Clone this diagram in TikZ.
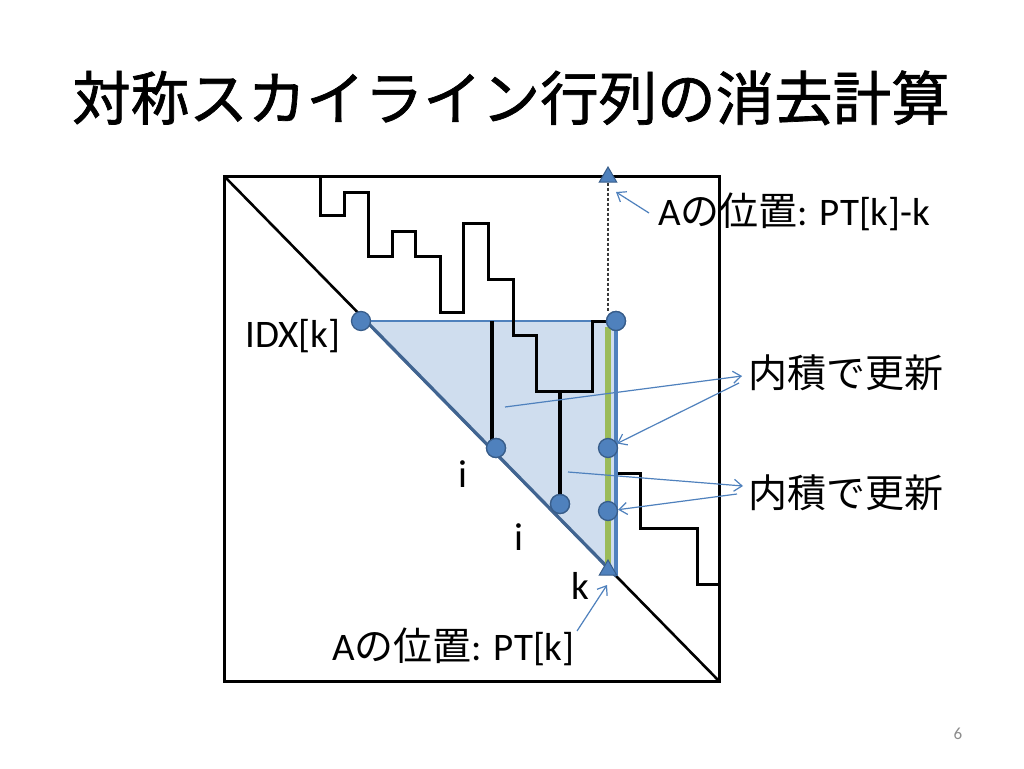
\documentclass[tikz,border=0pt]{standalone}
\usepackage{fontspec}
\setmainfont{Carlito}
\newfontfamily\cjk{Noto Sans CJK JP}
\newfontfamily\cjktitle[FakeBold=1.2]{Noto Sans CJK JP}
\usetikzlibrary{arrows.meta,shapes.geometric}
\definecolor{accent}{RGB}{79,129,189}
\definecolor{accentdk}{RGB}{56,93,138}
\definecolor{trifill}{RGB}{207,221,238}
\definecolor{hypo}{RGB}{64,100,145}
\definecolor{grn}{RGB}{155,187,89}
\definecolor{pagegray}{RGB}{140,140,140}
\begin{document}
\begin{tikzpicture}[x=1pt,y=-1pt,
  dot/.style={circle,fill=accent,draw=accentdk,line width=1.3,minimum size=19,inner sep=0},
  marker/.style={regular polygon,regular polygon sides=3,fill=accent,draw=accentdk,line width=1,minimum size=20,inner sep=0},
  lbl/.style={inner sep=0,font=\fontsize{39}{47}\selectfont,anchor=base west},
  jlbl/.style={lbl,font=\cjk\fontsize{39}{47}\selectfont},
  arr/.style={accent,line width=1.2,-{Straight Barb[length=8,width=12]}},
  blk/.style={black,line width=3},
]
\useasboundingbox (0,0) rectangle (1024,768);
\fill[white] (0,0) rectangle (1024,768);

% title
\node[inner sep=0,anchor=base,font=\cjktitle\fontsize{58.5}{70}\selectfont] (title) at (511,120) {対称スカイライン行列の消去計算};

% matrix frame and diagonal
\coordinate (TL) at (224,176);
\coordinate (BR) at (719,681);
\draw[blk] (TL) rectangle (BR);
\draw[blk,line width=2.6] (TL) -- (BR);

% triangle region
\coordinate (P) at (366,321);
\coordinate (Q) at (616,321);
\coordinate (R) at (616,576);
\fill[trifill] (P) -- (Q) -- (R) -- cycle;
\draw[accent,line width=2.2] (P) -- (Q);
\draw[hypo,line width=3.3] (P) -- (R);

% skyline
\draw[blk,line join=miter] (320,176) |- (344,215) |- (368,192) |- (392,256) |- (415,231)
  |- (440,256) |- (463,312) |- (488,223) |- (513,279) |- (536,335) |- (592,391)
  |- (616,321) |- (640,473) |- (697,528) |- (719,584);

% circles
\node[dot] (idx) at (361,321) {};
\node[dot] (tr) at (616,321) {};
\node[dot] (i1) at (496,448) {};
\node[dot] (i2) at (560,504) {};

% thick verticals
\coordinate (v1top) at (492,321);
\coordinate (v2top) at (560,391);
\draw[black,line width=4.2] (v1top) -- (v1top |- i1.center);
\draw[black,line width=4.2] (v2top) -- (v2top |- i2.center);
\node[dot] at (i1) {};
\node[dot] at (i2) {};

% column k
\draw[grn,line width=5.5] (608,327) -- (608,575);
\draw[accent,line width=3.4] (Q) -- (R);
\node[dot] (tr2) at (616,321) {};
\node[dot] (g1) at (608,448) {};
\node[dot] (g2) at (608,511) {};

% markers
\node[marker] (topA) at (608,177) {};
\node[marker] (botA) at (608,570) {};
\draw[gray!45!black,line width=1.2,dash pattern=on 3pt off 2pt] (topA.south) -- (topA.south |- tr.north);

% labels
\node[lbl] (idxl) at (245,347) {IDX[k]};
\node[lbl,anchor=base] (il1) at (463,487) {i};
\node[lbl,anchor=base] (il2) at (519,550) {i};
\node[lbl,anchor=base] (kl) at (580,599) {k};
\node[lbl] (ptk) at (332,660) {A{\cjk の位置}: PT[k]};
\node[lbl] (ptkk) at (658,225) {A{\cjk の位置}: PT[k]-k};
\node[jlbl] (upd1) at (748,387) {内積で更新};
\node[jlbl] (upd2) at (748,507) {内積で更新};

% arrows
\coordinate (a1s) at (505,407);
\coordinate (a1e) at (742,376);
\draw[arr] (a1s) -- (a1e);
\coordinate (a2s) at (739,383);
\draw[arr] (a2s) -- (g1);
\coordinate (a3s) at (568,472);
\coordinate (a3e) at (743,486);
\draw[arr] (a3s) -- (a3e);
\coordinate (a4s) at (737,494);
\draw[arr] (a4s) -- (g2);
\coordinate (a5s) at (649,213);
\coordinate (a5e) at (616,192);
\draw[arr] (a5s) -- (a5e);
\coordinate (a6s) at (577,631);
\coordinate (a6e) at (607,585);
\draw[arr] (a6s) -- (a6e);

% page number
\node[inner sep=0,anchor=base,font=\fontsize{17}{20}\selectfont,text=pagegray] (pg) at (958,739) {6};
\end{tikzpicture}
\end{document}
